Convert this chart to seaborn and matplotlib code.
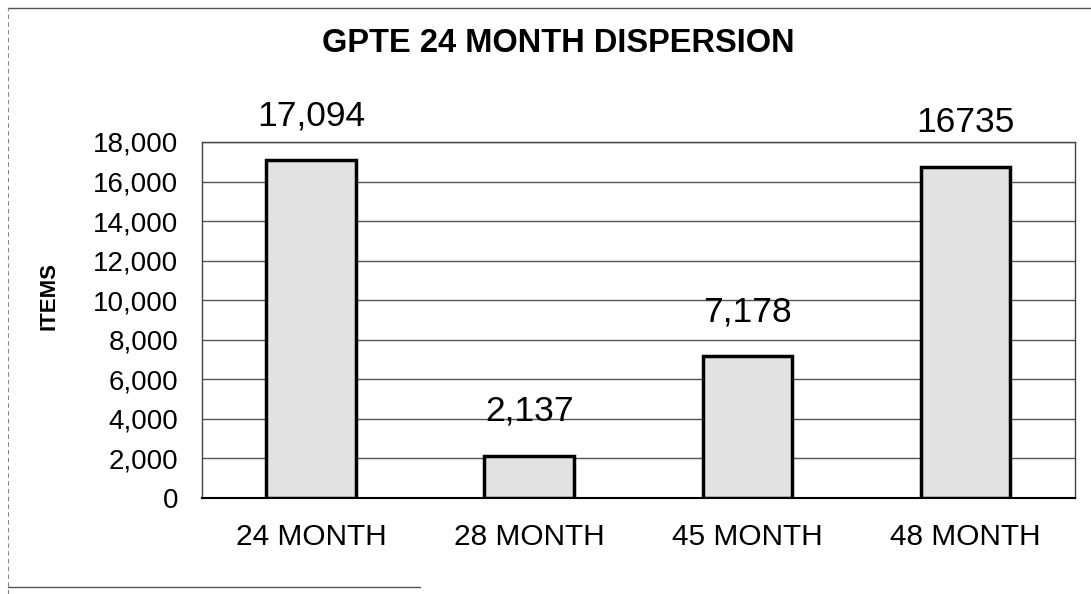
import matplotlib
matplotlib.use("Agg")
import matplotlib.pyplot as plt
import seaborn as sns
import pandas as pd
from matplotlib.lines import Line2D

categories = ["24 MONTH", "28 MONTH", "45 MONTH", "48 MONTH"]
items = [17094, 2137, 7178, 16735]
value_labels = ["17,094", "2,137", "7,178", "16735"]
y_ticks = [0, 2000, 4000, 6000, 8000, 10000, 12000, 14000, 16000, 18000]

sns.set_style("white")
plt.rcParams["font.family"] = ["Liberation Sans", "DejaVu Sans"]
plt.rcParams["text.color"] = "black"
plt.rcParams["xtick.color"] = "black"
plt.rcParams["ytick.color"] = "black"

df = pd.DataFrame({"period": categories, "items": items})

fig = plt.figure(figsize=(10.91, 5.94), dpi=100)
ax = fig.add_axes([0.185, 0.1616, 0.8, 0.5994])

sns.barplot(data=df, x="period", y="items", ax=ax, color="#e2e2e2",
            width=0.41, edgecolor="black", linewidth=2.5, saturation=1)
for bar in ax.patches:
    bar.set_zorder(3)

ax.set_ylim(0, 18000)
ax.set_xlim(-0.5, 3.5)
ax.set_yticks(y_ticks)
ax.set_yticklabels([f"{t:,}" for t in y_ticks], fontsize=20)
ax.tick_params(axis="x", labelsize=21.5, length=0, pad=18, labelcolor="black")
ax.tick_params(axis="y", length=0, pad=17, labelcolor="black")
ax.yaxis.grid(True, color="#555555", linewidth=1.0)
ax.set_axisbelow(True)
for s in ax.spines.values():
    s.set_visible(True)
    s.set_color("#444444")
    s.set_linewidth(1.0)
ax.spines["bottom"].set_color("black")
ax.spines["bottom"].set_linewidth(1.5)

ax.set_xlabel("")
ax.set_ylabel("")
fig.text(0.045, 0.502, "ITEMS", rotation=90, ha="center", va="center",
         fontsize=16, fontweight="bold", color="black")

for i, (v, lab) in enumerate(zip(items, value_labels)):
    ax.annotate(lab, (i, v), xytext=(0, 20), textcoords="offset points",
                ha="center", va="bottom", fontsize=25.5, color="black")

fig.text(0.512, 0.926, "GPTE 24 MONTH DISPERSION", ha="center", va="center",
         fontsize=23.5, fontweight="bold", color="black")

# scanned page frame
fig.add_artist(Line2D([0.007, 1.0], [0.987, 0.987], color="#555555", linewidth=1.0))
fig.add_artist(Line2D([0.007, 0.007], [0.0, 0.987], color="#888888", linewidth=0.8,
                      linestyle=(0, (4, 3))))
fig.add_artist(Line2D([0.007, 0.385], [0.012, 0.012], color="#555555", linewidth=1.0))

fig.savefig("out.png", dpi=100)
